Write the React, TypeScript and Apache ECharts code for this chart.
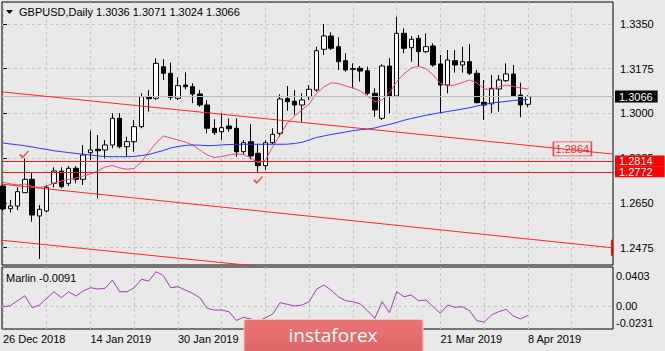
import React, { useEffect, useRef } from 'react';
import * as echarts from 'echarts';

// ---- data ----
const opens = [
  1.27165, 1.26277, 1.26382, 1.26903, 1.27427, 1.25991, 1.26187, 1.2727, 1.27751, 1.2727,
  1.27857, 1.27427, 1.28467, 1.286, 1.28572, 1.28768, 1.29812, 1.28701, 1.28897, 1.29484,
  1.30633, 1.30594, 1.3183, 1.31572, 1.30594, 1.31114, 1.31048, 1.30762, 1.30332, 1.29421,
  1.29288, 1.29511, 1.29421, 1.28506, 1.28897, 1.28443, 1.27958, 1.28858, 1.29225, 1.30579,
  1.30477, 1.30332, 1.30657, 1.30919, 1.32511, 1.33031, 1.32612, 1.32065, 1.31752, 1.31768,
  1.31674, 1.3079, 1.29812, 1.31857, 1.30684, 1.33136, 1.32573, 1.32941, 1.32417, 1.3264,
  1.31936, 1.31114, 1.32065, 1.31897, 1.32026, 1.31572, 1.30438, 1.30371, 1.30958, 1.31283,
  1.31545, 1.30723, 1.3036,
];
const closes = [
  1.26265, 1.26382, 1.26942, 1.27427, 1.2603, 1.26253, 1.27114, 1.27751, 1.27137, 1.27857,
  1.27427, 1.28377, 1.28572, 1.28545, 1.28768, 1.29812, 1.28701, 1.28897, 1.29484, 1.30657,
  1.30579, 1.31963, 1.31572, 1.30633, 1.31087, 1.31048, 1.30762, 1.30332, 1.29421, 1.29249,
  1.29445, 1.29405, 1.28506, 1.28858, 1.28338, 1.27958, 1.28858, 1.29186, 1.30567, 1.30461,
  1.30332, 1.30528, 1.30946, 1.32456, 1.33031, 1.3255, 1.32026, 1.31701, 1.31728, 1.31662,
  1.3079, 1.30137, 1.31857, 1.30684, 1.33136, 1.3255, 1.32902, 1.32417, 1.32612, 1.31897,
  1.31114, 1.32092, 1.31897, 1.32026, 1.31572, 1.30422, 1.30332, 1.30985, 1.3131, 1.31545,
  1.30684, 1.30332, 1.3066,
];
const highs = [
  1.27243, 1.26617, 1.27114, 1.28248, 1.27685, 1.26421, 1.27204, 1.27896, 1.27896, 1.27947,
  1.27947, 1.28768, 1.29327, 1.29159, 1.28963, 1.30008, 1.30008, 1.29093, 1.29746, 1.3079,
  1.30919, 1.32159, 1.3212, 1.31987, 1.31416, 1.31611, 1.31181, 1.30919, 1.30528, 1.29773,
  1.30008, 1.29812, 1.29812, 1.28963, 1.29589, 1.28807, 1.28963, 1.29421, 1.30751, 1.31075,
  1.30919, 1.3079, 1.31114, 1.32612, 1.335, 1.33175, 1.3298, 1.32354, 1.31963, 1.31857,
  1.3183, 1.30985, 1.31924, 1.32159, 1.33785, 1.33332, 1.33031, 1.3307, 1.33136, 1.32745,
  1.32288, 1.32483, 1.32483, 1.32612, 1.32718, 1.31701, 1.3131, 1.31505, 1.31505, 1.31963,
  1.31897, 1.31204, 1.3071,
];
const lows = [
  1.26187, 1.2612, 1.26226, 1.26891, 1.25768, 1.2431, 1.26136, 1.27114, 1.27075, 1.27165,
  1.2727, 1.27204, 1.28181, 1.26684, 1.28248, 1.28639, 1.28639, 1.2831, 1.28506, 1.29421,
  1.3007, 1.30528, 1.3131, 1.30528, 1.30528, 1.30946, 1.30399, 1.30266, 1.29225, 1.29159,
  1.28963, 1.29288, 1.2831, 1.28377, 1.28209, 1.27724, 1.2779, 1.28807, 1.29093, 1.30109,
  1.29941, 1.29679, 1.30528, 1.30852, 1.32288, 1.32483, 1.31701, 1.31635, 1.30985, 1.31243,
  1.30723, 1.29875, 1.29746, 1.30008, 1.30657, 1.32354, 1.32026, 1.3183, 1.32354, 1.3183,
  1.30008, 1.3079, 1.31595, 1.31595, 1.31505, 1.30399, 1.29746, 1.30008, 1.3007, 1.31232,
  1.30645, 1.29851, 1.3024,
];
const maFast = [
  1.27322, 1.27244, 1.27205, 1.27244, 1.27146, 1.27107, 1.27166, 1.27283, 1.27361, 1.2742,
  1.27479, 1.27557, 1.27635, 1.27752, 1.27909, 1.27967, 1.2787, 1.27819, 1.2785, 1.28104,
  1.28495, 1.28847, 1.29121, 1.29043, 1.28964, 1.28886, 1.28769, 1.28573, 1.28378, 1.2828,
  1.28319, 1.28378, 1.28417, 1.28397, 1.28261, 1.28065, 1.28182, 1.28691, 1.2916, 1.29629,
  1.29903, 1.30137, 1.30372, 1.30783, 1.31037, 1.31193, 1.31174, 1.31076, 1.30998, 1.3088,
  1.30685, 1.3047, 1.30528, 1.30802, 1.31244, 1.31545, 1.3178, 1.31838, 1.3176, 1.31506,
  1.31174, 1.31076, 1.31115, 1.31213, 1.3131, 1.31193, 1.30958, 1.30939, 1.31037, 1.31115,
  1.31056, 1.30998, 1.30958,
];
const maSlow = [
  1.28847, 1.28808, 1.28777, 1.28738, 1.28691, 1.2864, 1.28593, 1.28542, 1.28507, 1.28472,
  1.28437, 1.28405, 1.28378, 1.28339, 1.28319, 1.28311, 1.28311, 1.28311, 1.28319, 1.28358,
  1.28397, 1.28476, 1.28554, 1.28652, 1.2871, 1.28749, 1.28769, 1.28761, 1.28742, 1.28749,
  1.28769, 1.28788, 1.28796, 1.28796, 1.28796, 1.28796, 1.28796, 1.28796, 1.28796, 1.288,
  1.28828, 1.28874, 1.28964, 1.29062, 1.29121, 1.29179, 1.29226, 1.29277, 1.29328, 1.29363,
  1.29394, 1.29434, 1.29512, 1.2957, 1.29649, 1.29735, 1.29805, 1.29864, 1.2993, 1.29981,
  1.30032, 1.30079, 1.30126, 1.30176, 1.30223, 1.30294, 1.30352, 1.30411, 1.30438, 1.3047,
  1.30509, 1.30528, 1.30548,
];
const marlin = [
  -0.0003, 0.0007, 0.0058, 0.0109, -0.0013, 0.0014, 0.0083, 0.015, 0.0089, 0.015,
  0.0106, 0.0157, 0.0191, 0.0178, 0.0185, 0.027, 0.015, 0.015, 0.0191, 0.0277,
  0.026, 0.0355, 0.0314, 0.0191, 0.0201, 0.0168, 0.0134, 0.0089, -0.0019, -0.0037,
  -0.0037, -0.0054, -0.0144, -0.0111, -0.0129, -0.0149, -0.0116, -0.0078, 0.0038, 0.0021,
  0.0004, 0.0014, 0.0048, 0.0175, 0.0219, 0.0168, 0.0099, 0.0058, 0.0048, 0.0025,
  -0.0044, -0.0122, 0.0048, -0.0064, 0.015, 0.0099, 0.0117, 0.0058, 0.0065, -0.0003,
  -0.0071, 0.0014, -0.0009, -0.0003, -0.0044, -0.0146, -0.016, -0.0088, -0.0054, -0.003,
  -0.0098, -0.0129, -0.0091,
];
const xTickIndex = [0, 12, 24, 36, 48, 60, 72];
const xTickLabels = ['26 Dec 2018', '14 Jan 2019', '30 Jan 2019', '15 Feb 2019', '5 Mar 2019', '21 Mar 2019', '8 Apr 2019'];
const xGridIndex = [0, 6, 12, 18, 24, 30, 36, 42, 48, 54, 60, 66, 72, 78];
const priceTicks = [1.2475, 1.265, 1.2825, 1.3, 1.3175, 1.335];
const marlinTicks = [-0.0231, 0, 0.0403];
const levels = [1.2814, 1.2772];
const lastPrice = 1.3066;
const channelUpper = [[-0.41, 1.30853], [83.54, 1.28417]];
const channelLower = [[-0.41, 1.27244], [83.54, 1.24749]];
const channelBottom = [[-0.41, 1.2505], [40.74, 1.23858]];
const channelTag = [78.1, 1.28615];
const channelTagText = '1.2864';
const checkMarks = [[2.88, 1.28398], [34.98, 1.274]];

const xMin = -0.137;
const xMax = 83.67;
const yMin = 1.24075;
const yMax = 1.3436;
const mMin = -0.0231;
const mMax = 0.0403;

const FONT = '"Liberation Sans", Arial, sans-serif';
const GRID_LINE = { color: '#c6c6c6', type: [3, 3] as any, width: 1 };

function levelLine(lv: number) {
  const lbl = {
    show: true, position: 'end', distance: 2, formatter: lv.toFixed(4),
    backgroundColor: '#ff0000', color: '#fff', padding: [0, 12, 0, 4], lineHeight: 11,
    fontSize: 11, fontFamily: FONT,
  };
  return [
    { coord: [xMin, lv], lineStyle: { color: '#ff1010', type: 'solid', width: 1 }, label: lbl },
    { coord: [xMax, lv] },
  ];
}

export default function App() {
  const ref = useRef<HTMLDivElement>(null);
  useEffect(() => {
    if (!ref.current) return;
    const chart = echarts.init(ref.current, undefined, { renderer: 'svg' });
    const candles = opens.map((o, i) => [i, o, closes[i], lows[i], highs[i]]);
    const option: any = {
      animation: false,
      backgroundColor: '#e9e9e9',
      textStyle: { fontFamily: FONT },
      title: [
        {
          text: 'GBPUSD,Daily 1.3036 1.3071 1.3024 1.3066',
          left: 19, top: 6, padding: 0,
          textStyle: { fontSize: 11, fontWeight: 'normal', color: '#000', fontFamily: FONT },
        },
        {
          text: 'Marlin -0.0091',
          left: 6, top: 272, padding: 0,
          textStyle: { fontSize: 11, fontWeight: 'normal', color: '#000', fontFamily: FONT },
        },
      ],
      grid: [
        { left: 2, right: 52, top: 2, height: 263, show: true, borderColor: '#000', borderWidth: 1, backgroundColor: 'transparent' },
        { left: 2, right: 52, top: 267, height: 62, show: true, borderColor: '#000', borderWidth: 1, backgroundColor: 'transparent' },
      ],
      xAxis: [
        {
          type: 'value', gridIndex: 0, min: xMin, max: xMax,
          axisLine: { show: false }, axisLabel: { show: false },
          axisTick: { show: false, customValues: xGridIndex },
          splitLine: { show: true, lineStyle: GRID_LINE },
        },
        {
          type: 'value', gridIndex: 1, min: xMin, max: xMax,
          axisLine: { show: false },
          axisTick: { show: false, customValues: xGridIndex },
          axisLabel: {
            show: true, customValues: xTickIndex,
            formatter: (v: number) => {
              const k = xTickIndex.indexOf(Math.round(v));
              return k >= 0 ? xTickLabels[k] : '';
            },
            align: 'left', margin: 4, fontSize: 11, color: '#000', fontFamily: FONT,
            showMinLabel: true, showMaxLabel: true,
          },
          splitLine: { show: true, lineStyle: GRID_LINE },
        },
      ],
      yAxis: [
        {
          type: 'value', gridIndex: 0, position: 'right', min: yMin, max: yMax, scale: true,
          axisLine: { show: false },
          axisTick: { show: true, length: 4, customValues: priceTicks, lineStyle: { color: '#000' } },
          axisLabel: {
            customValues: priceTicks, formatter: (v: number) => v.toFixed(4),
            margin: 7, fontSize: 11, color: '#000', fontFamily: FONT,
          },
          splitLine: { show: true, lineStyle: GRID_LINE },
        },
        {
          type: 'value', gridIndex: 1, position: 'right', min: mMin, max: mMax,
          axisLine: { show: false },
          axisTick: { show: false, customValues: [0] },
          axisLabel: {
            customValues: marlinTicks,
            formatter: (v: number) => (v > 0.03 ? '{t|0.0403}' : v < -0.02 ? '{b|-0.0231}' : '0.00'),
            margin: 3, fontSize: 11, color: '#000', fontFamily: FONT,
            rich: {
              t: { fontSize: 11, color: '#000', fontFamily: FONT, padding: [17, 0, 0, 0] },
              b: { fontSize: 11, color: '#000', fontFamily: FONT, padding: [0, 0, 13, 0] },
            },
            showMinLabel: true, showMaxLabel: true,
          },
          splitLine: { show: true, lineStyle: GRID_LINE },
        },
      ],
      series: [
        {
          type: 'candlestick', xAxisIndex: 0, yAxisIndex: 0,
          data: candles, encode: { x: 0, y: [1, 2, 3, 4] },
          barWidth: 5,
          itemStyle: { color: '#ffffff', color0: '#000000', borderColor: '#000000', borderColor0: '#000000', borderWidth: 1 },
          markLine: {
            silent: true, symbol: ['none', 'none'], animation: false,
            data: [
              [
                {
                  coord: [xMin, lastPrice],
                  lineStyle: { color: '#b9b9b9', type: 'solid', width: 1 },
                  label: {
                    show: true, position: 'end', distance: 2, formatter: lastPrice.toFixed(4),
                    backgroundColor: '#000', color: '#fff', padding: [0, 5, 0, 4], lineHeight: 12,
                    fontSize: 11, fontFamily: FONT,
                  },
                },
                { coord: [xMax, lastPrice] },
              ],
            ],
          },
          z: 3,
        },
        {
          type: 'line', xAxisIndex: 0, yAxisIndex: 0, showSymbol: false, symbol: 'none',
          data: maFast.map((v, i) => [i, v]),
          lineStyle: { color: '#ec4a68', width: 1 }, z: 4,
        },
        {
          type: 'line', xAxisIndex: 0, yAxisIndex: 0, showSymbol: false, symbol: 'none',
          data: maSlow.map((v, i) => [i, v]),
          lineStyle: { color: '#2438f2', width: 1 }, z: 4,
        },
        {
          type: 'line', xAxisIndex: 0, yAxisIndex: 0, showSymbol: false, symbol: 'none',
          data: channelUpper, lineStyle: { color: '#ff2424', width: 1 }, z: 5,
          markLine: {
            silent: true, symbol: ['none', 'none'], animation: false,
            data: [levelLine(levels[0])],
          },
          markPoint: {
            silent: true, animation: false,
            symbol: 'rect', symbolSize: [38, 14],
            itemStyle: { color: 'rgba(0,0,0,0)', borderColor: '#ff4040', borderWidth: 1 },
            label: {
              show: true, position: 'inside', formatter: channelTagText,
              color: '#ff2d2d', textBorderWidth: 0, fontSize: 11, fontFamily: FONT,
            },
            data: [{ coord: channelTag }],
          },
        },
        {
          type: 'line', xAxisIndex: 0, yAxisIndex: 0, showSymbol: false, symbol: 'none',
          data: channelLower, lineStyle: { color: '#ff2424', width: 1 }, z: 5,
          markLine: {
            silent: true, symbol: ['none', 'none'], animation: false,
            data: [levelLine(levels[1])],
          },
          markPoint: {
            silent: true, animation: false,
            symbol: 'rect', symbolSize: [2, 16],
            itemStyle: { color: '#ff0000' },
            label: { show: false },
            data: [{ coord: channelLower[1] }],
          },
        },
        {
          type: 'line', xAxisIndex: 0, yAxisIndex: 0, showSymbol: false, symbol: 'none',
          data: channelBottom, lineStyle: { color: '#ff2424', width: 1 }, z: 5,
        },
        {
          type: 'scatter', xAxisIndex: 0, yAxisIndex: 0, data: checkMarks,
          symbol: 'path://M0,5 L2,3.6 L4,6.5 L10,0 L11,1.2 L4,9 Z', symbolSize: [10, 8],
          itemStyle: { color: '#ff2020' }, z: 6,
        },
        {
          type: 'line', xAxisIndex: 1, yAxisIndex: 1, showSymbol: false, symbol: 'none',
          data: marlin.map((v, i) => [i, v]),
          lineStyle: { color: '#a23ab4', width: 1 },
        },
      ],
      graphic: [
        {
          type: 'polygon', z: 50,
          shape: { points: [[6, 10], [13, 10], [9.5, 14]] },
          style: { fill: '#000' },
        },
        {
          type: 'rect', z: 100,
          shape: { x: 244, y: 319.5, width: 179, height: 40, r: 2 },
          style: {
            fill: new echarts.graphic.LinearGradient(0, 0, 0, 1, [
              { offset: 0, color: '#ea7474' },
              { offset: 1, color: '#de6464' },
            ]),
            stroke: '#f4c4c4', lineWidth: 1,
          },
        },
        {
          type: 'text', z: 101, x: 333, y: 335,
          style: {
            text: 'instaforex', fill: '#ffffff',
            font: '19px "Open Sans", sans-serif', align: 'center', verticalAlign: 'middle',
          },
        },
      ],
    };
    chart.setOption(option);
    return () => chart.dispose();
  }, []);
  return <div ref={ref} style={{ position: 'absolute', left: 0, top: 0, width: 665, height: 351 }} />;
}
